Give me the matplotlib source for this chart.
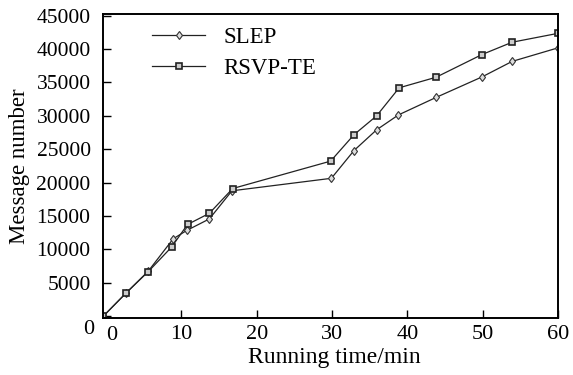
import matplotlib.pyplot as plt

# values
t_slep = [-0.4, 2.7, 5.6, 8.9, 10.7, 13.7, 16.7, 29.9, 32.9, 35.9, 38.8, 43.8, 49.9, 53.9, 60]
slep = [0, 3550, 6770, 11600, 12850, 14570, 18780, 20650, 24800, 27900, 30130, 32750, 35820, 38140, 40170]

t_rsvp = [-0.4, 2.7, 5.6, 8.7, 10.8, 13.7, 16.8, 29.8, 32.9, 35.9, 38.9, 43.8, 49.9, 53.9, 60]
rsvp = [0, 3550, 6700, 10380, 13740, 15410, 19120, 23220, 27170, 29990, 34190, 35770, 39170, 41010, 42340]

xticks = [10, 20, 30, 40, 50, 60]
yticks = list(range(0, 45001, 5000))
ylabels = [''] + [str(v) for v in yticks[1:]]

plt.rcParams['font.family'] = ['Liberation Serif', 'DejaVu Serif']

fig = plt.figure(figsize=(5.73, 3.75), dpi=100)
ax = fig.add_axes([0.18, 0.152, 0.794, 0.811])

ax.plot(t_slep, slep, color='#222222', lw=0.9, marker='d', ms=4.5,
        mfc='#dddddd', mec='#333333', mew=0.8, label='SLEP')
ax.plot(t_rsvp, rsvp, color='#222222', lw=0.9, marker='s', ms=5,
        mfc='#cccccc', mec='#222222', mew=1.2, label='RSVP-TE')

ax.set_xlim(-0.4, 60)
ax.set_ylim(-250, 45250)
ax.set_xticks(xticks)
ax.set_yticks(yticks)
ax.set_yticklabels(ylabels)
ax.tick_params(direction='in', length=6, width=1, labelsize=16,
               top=False, right=False)
ax.tick_params(axis='x', pad=5)
ax.tick_params(axis='y', pad=9, labelsize=15.5)
for s in ax.spines.values():
    s.set_linewidth(1.4)

# the two "0" labels sit a little below the corner
fig.text(94 / 573, 1 - 330 / 375, '0', fontsize=16, ha='right', va='center')
fig.text(112 / 573, 1 - 335 / 375, '0', fontsize=16, ha='center', va='center')

ax.set_xlabel('Running time/min', fontsize=17, va='center')
ax.xaxis.set_label_coords(0.508, -0.13)
ax.set_ylabel('Message number', fontsize=16.5, va='center')
ax.yaxis.set_label_coords(-0.183, 0.5)

ax.legend(loc='upper left', frameon=False, fontsize=16.5, handlelength=2.3,
          handletextpad=0.8, borderaxespad=0, borderpad=0,
          bbox_to_anchor=(0.108, 0.958), labelspacing=0.45)

fig.savefig('out.png', dpi=100)
